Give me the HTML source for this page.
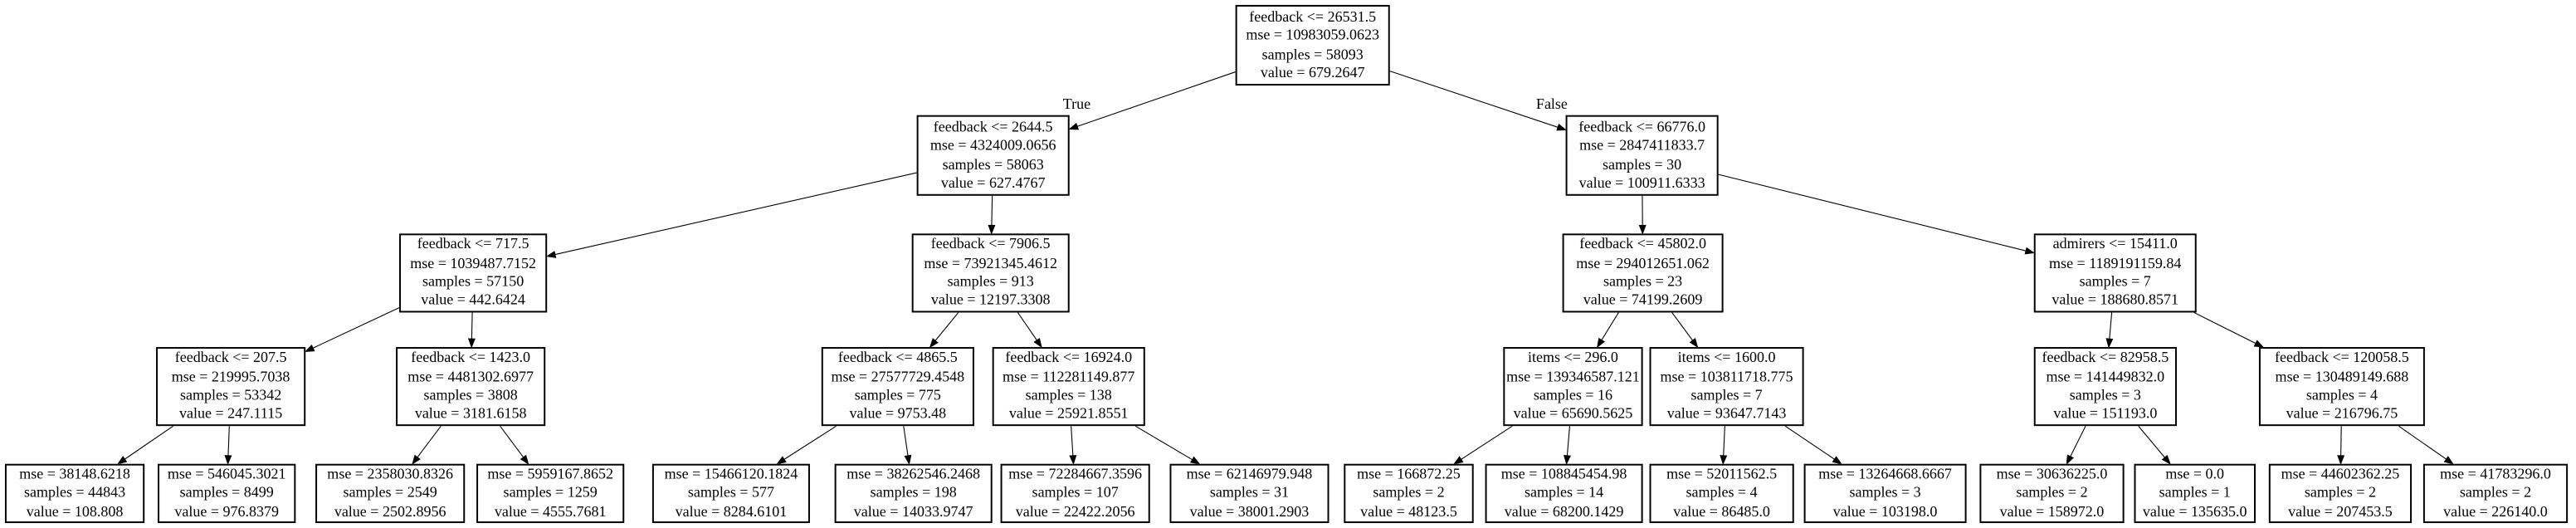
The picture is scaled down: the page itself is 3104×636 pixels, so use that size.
<!DOCTYPE html>
<html><head><meta charset="utf-8"><style>
html,body{margin:0;padding:0;background:#fff;width:3104px;height:636px;overflow:hidden}
#c{position:absolute;left:0;top:0;width:1568px;height:321px;transform-origin:0 0;transform:scale(1.9796,1.9813)}
.n{position:absolute;box-sizing:border-box;border:0.6px solid #000;background:#fff;display:flex;flex-direction:column;justify-content:center;align-items:center;font-family:"Liberation Serif",serif;font-size:9.1px;line-height:11.4px;white-space:nowrap;color:#000}
.lb{position:absolute;font-family:"Liberation Serif",serif;font-size:9.1px;line-height:10px}
svg{position:absolute;left:0;top:0}
</style></head><body><div id="c">
<svg id="s" width="1568" height="321" viewBox="0 0 1568 321"></svg>
<div class="lb" style="left:647px;top:58px">True</div>
<div class="lb" style="left:935px;top:58px">False</div>

<div class="n" id="n0" style="left:752px;width:94px;top:3px;height:49px"><div>feedback &lt;= 26531.5</div><div>mse = 10983059.0623</div><div>samples = 58093</div><div>value = 679.2647</div></div>
<div class="n" id="n1" style="left:558px;width:93px;top:70px;height:49px"><div>feedback &lt;= 2644.5</div><div>mse = 4324009.0656</div><div>samples = 58063</div><div>value = 627.4767</div></div>
<div class="n" id="n2" style="left:953px;width:93px;top:70px;height:49px"><div>feedback &lt;= 66776.0</div><div>mse = 2847411833.7</div><div>samples = 30</div><div>value = 100911.6333</div></div>
<div class="n" id="n3" style="left:243px;width:90px;top:142px;height:48px"><div>feedback &lt;= 717.5</div><div>mse = 1039487.7152</div><div>samples = 57150</div><div>value = 442.6424</div></div>
<div class="n" id="n4" style="left:555px;width:96px;top:142px;height:48px"><div>feedback &lt;= 7906.5</div><div>mse = 73921345.4612</div><div>samples = 913</div><div>value = 12197.3308</div></div>
<div class="n" id="n5" style="left:951px;width:98px;top:142px;height:48px"><div>feedback &lt;= 45802.0</div><div>mse = 294012651.062</div><div>samples = 23</div><div>value = 74199.2609</div></div>
<div class="n" id="n6" style="left:1238px;width:99px;top:142px;height:48px"><div>admirers &lt;= 15411.0</div><div>mse = 1189191159.84</div><div>samples = 7</div><div>value = 188680.8571</div></div>
<div class="n" id="n7" style="left:95px;width:91px;top:211px;height:48px"><div>feedback &lt;= 207.5</div><div>mse = 219995.7038</div><div>samples = 53342</div><div>value = 247.1115</div></div>
<div class="n" id="n8" style="left:241px;width:91px;top:211px;height:48px"><div>feedback &lt;= 1423.0</div><div>mse = 4481302.6977</div><div>samples = 3808</div><div>value = 3181.6158</div></div>
<div class="n" id="n9" style="left:500px;width:93px;top:211px;height:48px"><div>feedback &lt;= 4865.5</div><div>mse = 27577729.4548</div><div>samples = 775</div><div>value = 9753.48</div></div>
<div class="n" id="n10" style="left:604px;width:93px;top:211px;height:48px"><div>feedback &lt;= 16924.0</div><div>mse = 112281149.877</div><div>samples = 138</div><div>value = 25921.8551</div></div>
<div class="n" id="n11" style="left:915px;width:85px;top:211px;height:48px"><div>items &lt;= 296.0</div><div>mse = 139346587.121</div><div>samples = 16</div><div>value = 65690.5625</div></div>
<div class="n" id="n12" style="left:1004px;width:94px;top:211px;height:48px"><div>items &lt;= 1600.0</div><div>mse = 103811718.775</div><div>samples = 7</div><div>value = 93647.7143</div></div>
<div class="n" id="n13" style="left:1238px;width:87px;top:211px;height:48px"><div>feedback &lt;= 82958.5</div><div>mse = 141449832.0</div><div>samples = 3</div><div>value = 151193.0</div></div>
<div class="n" id="n14" style="left:1375px;width:101px;top:211px;height:48px"><div>feedback &lt;= 120058.5</div><div>mse = 130489149.688</div><div>samples = 4</div><div>value = 216796.75</div></div>

<div class="n" id="l1" style="left:3px;width:85px;top:282px;height:36px"><div>mse = 38148.6218</div><div>samples = 44843</div><div>value = 108.808</div></div>
<div class="n" id="l2" style="left:96px;width:84px;top:282px;height:36px"><div>mse = 546045.3021</div><div>samples = 8499</div><div>value = 976.8379</div></div>
<div class="n" id="l3" style="left:192px;width:91px;top:282px;height:36px"><div>mse = 2358030.8326</div><div>samples = 2549</div><div>value = 2502.8956</div></div>
<div class="n" id="l4" style="left:290px;width:90px;top:282px;height:36px"><div>mse = 5959167.8652</div><div>samples = 1259</div><div>value = 4555.7681</div></div>
<div class="n" id="l5" style="left:397px;width:96px;top:282px;height:36px"><div>mse = 15466120.1824</div><div>samples = 577</div><div>value = 8284.6101</div></div>
<div class="n" id="l6" style="left:508px;width:96px;top:282px;height:36px"><div>mse = 38262546.2468</div><div>samples = 198</div><div>value = 14033.9747</div></div>
<div class="n" id="l7" style="left:609px;width:91px;top:282px;height:36px"><div>mse = 72284667.3596</div><div>samples = 107</div><div>value = 22422.2056</div></div>
<div class="n" id="l8" style="left:712px;width:97px;top:282px;height:36px"><div>mse = 62146979.948</div><div>samples = 31</div><div>value = 38001.2903</div></div>
<div class="n" id="l9" style="left:818px;width:79px;top:282px;height:36px"><div>mse = 166872.25</div><div>samples = 2</div><div>value = 48123.5</div></div>
<div class="n" id="l10" style="left:904px;width:96px;top:282px;height:36px"><div>mse = 108845454.98</div><div>samples = 14</div><div>value = 68200.1429</div></div>
<div class="n" id="l11" style="left:1004px;width:88px;top:282px;height:36px"><div>mse = 52011562.5</div><div>samples = 4</div><div>value = 86485.0</div></div>
<div class="n" id="l12" style="left:1098px;width:99px;top:282px;height:36px"><div>mse = 13264668.6667</div><div>samples = 3</div><div>value = 103198.0</div></div>
<div class="n" id="l13" style="left:1205px;width:88px;top:282px;height:36px"><div>mse = 30636225.0</div><div>samples = 2</div><div>value = 158972.0</div></div>
<div class="n" id="l14" style="left:1299px;width:74px;top:282px;height:36px"><div>mse = 0.0</div><div>samples = 1</div><div>value = 135635.0</div></div>
<div class="n" id="l15" style="left:1381px;width:87px;top:282px;height:36px"><div>mse = 44602362.25</div><div>samples = 2</div><div>value = 207453.5</div></div>
<div class="n" id="l16" style="left:1475px;width:88px;top:282px;height:36px"><div>mse = 41783296.0</div><div>samples = 2</div><div>value = 226140.0</div></div>
</div>
<script>
(function(){
var E=[["n0","n1"],["n0","n2"],["n1","n3"],["n1","n4"],["n2","n5"],["n2","n6"],["n3","n7"],["n3","n8"],["n4","n9"],["n4","n10"],["n5","n11"],["n5","n12"],["n6","n13"],["n6","n14"],["n7","l1"],["n7","l2"],["n8","l3"],["n8","l4"],["n9","l5"],["n9","l6"],["n10","l7"],["n10","l8"],["n11","l9"],["n11","l10"],["n12","l11"],["n12","l12"],["n13","l13"],["n13","l14"],["n14","l15"],["n14","l16"]];
function R(id){var e=document.getElementById(id);var x=parseFloat(e.style.left),y=parseFloat(e.style.top),w=parseFloat(e.style.width),h=parseFloat(e.style.height);return {cx:x+w/2,cy:y+h/2,hw:w/2,hh:h/2};}
function cl(r,dx,dy){var t=Math.min(dx?r.hw/Math.abs(dx):1e9,dy?r.hh/Math.abs(dy):1e9);return [r.cx+dx*t,r.cy+dy*t];}
var s="";
E.forEach(function(e){var a=R(e[0]),b=R(e[1]);var dx=b.cx-a.cx,dy=b.cy-a.cy;
var p=cl(a,dx,dy),q=cl(b,-dx,-dy);var L=Math.hypot(q[0]-p[0],q[1]-p[1]);var ux=(q[0]-p[0])/L,uy=(q[1]-p[1])/L;
var al=5,aw=1.9;var bx=q[0]-ux*al,by=q[1]-uy*al;
s+='<line x1="'+p[0]+'" y1="'+p[1]+'" x2="'+bx+'" y2="'+by+'" stroke="#000" stroke-width="0.55"/>';
s+='<polygon points="'+q[0]+','+q[1]+' '+(bx-uy*aw)+','+(by+ux*aw)+' '+(bx+uy*aw)+','+(by-ux*aw)+'" fill="#000" stroke="#000" stroke-width="0.5"/>';});
document.getElementById("s").innerHTML=s;})();
</script>
</body></html>
